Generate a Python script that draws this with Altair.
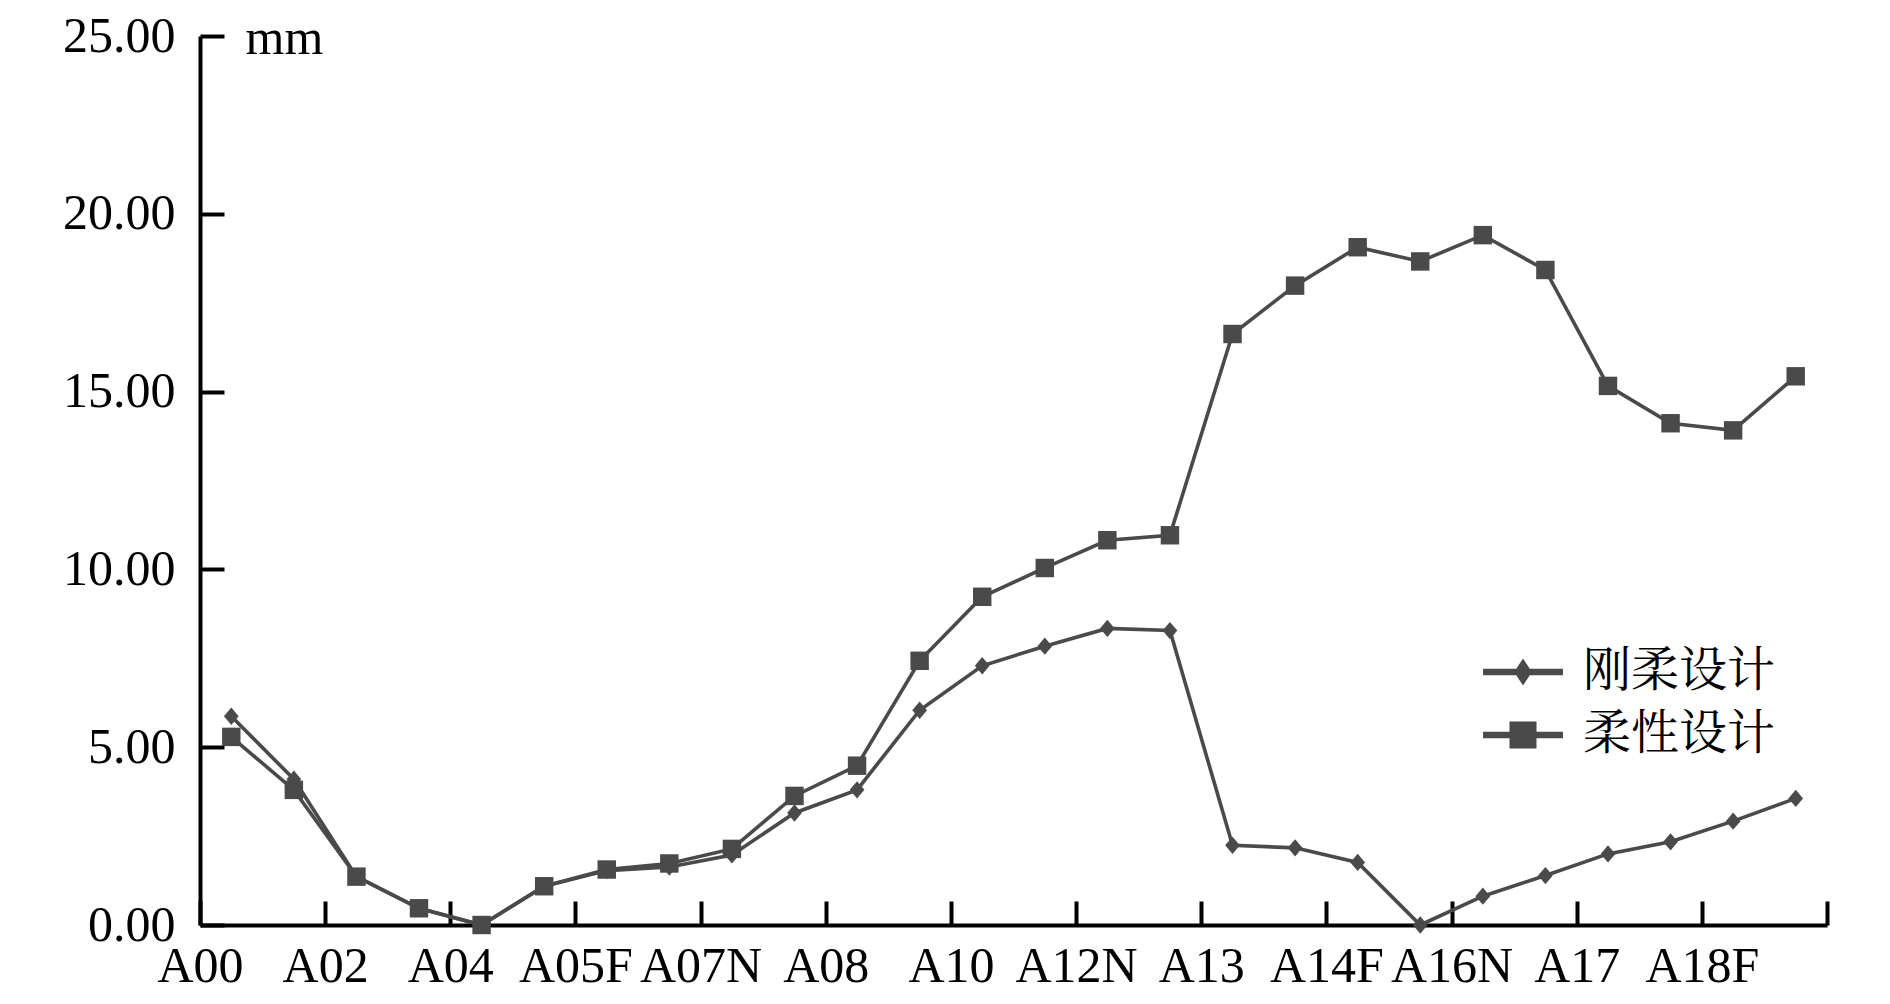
import altair as alt
import pandas as pd

# ---- data ----
series_names = ["刚柔设计", "柔性设计"]
rigid_flexible = [5.87, 4.10, 1.36, 0.47, 0.00, 1.09, 1.53, 1.63, 1.97, 3.15,
                  3.80, 6.04, 7.29, 7.84, 8.34, 8.28, 2.24, 2.17, 1.76, 0.00,
                  0.81, 1.39, 2.00, 2.34, 2.92, 3.56]
flexible = [5.29, 3.80, 1.36, 0.47, 0.00, 1.09, 1.56, 1.73, 2.14, 3.63,
            4.48, 7.43, 9.23, 10.04, 10.82, 10.96, 16.62, 17.98, 19.06, 18.66,
            19.40, 18.42, 15.16, 14.11, 13.91, 15.43]
tick_labels = ["A00", "A02", "A04", "A05F", "A07N", "A08", "A10", "A12N",
               "A13", "A14F", "A16N", "A17", "A18F", ""]
y_ticks = [0, 5, 10, 15, 20, 25]

n = len(flexible)
rows = []
for i, v in enumerate(rigid_flexible):
    rows.append({"pos": i + 0.5, "value": v, "series": series_names[0]})
for i, v in enumerate(flexible):
    rows.append({"pos": i + 0.5, "value": v, "series": series_names[1]})
df = pd.DataFrame(rows)

tick_pos = list(range(0, n + 1, 2))
label_map = "[" + ",".join("'" + t + "'" for t in tick_labels) + "]"

GRAY = "#4a4a4a"
SERIF = "Liberation Serif, Times New Roman, serif"
CJK = "Noto Serif CJK SC, Noto Sans CJK SC, sans-serif"

x_enc = alt.X("pos:Q",
              scale=alt.Scale(domain=[0, n], nice=False, zero=False),
              axis=alt.Axis(values=tick_pos, grid=False, title=None,
                            labelExpr=label_map + "[round(datum.value/2)]",
                            labelFont=SERIF, labelFontSize=50, labelColor="black",
                            labelPadding=40, labelFlush=False, labelOverlap=False,
                            domainColor="black", domainWidth=4,
                            tickColor="black", tickWidth=4,
                            tickSize={"expr": "-24"}))
y_enc = alt.Y("value:Q",
              scale=alt.Scale(domain=[0, 25], nice=False),
              axis=alt.Axis(values=y_ticks, format=".2f", grid=False,
                            title="mm", titleAngle=0, titleX=45, titleY=2,
                            titleAlign="left", titleBaseline="middle",
                            titleFont=SERIF, titleFontSize=50,
                            titleFontWeight="normal", titleColor="black",
                            labelFont=SERIF, labelFontSize=50, labelColor="black",
                            labelPadding=49, labelFlush=False,
                            domainColor="black", domainWidth=4,
                            tickColor="black", tickWidth=4,
                            tickSize={"expr": "-24"}))

color_scale = alt.Scale(domain=series_names, range=[GRAY, GRAY])

lines = alt.Chart(df).mark_line(strokeWidth=3.6).encode(
    x=x_enc, y=y_enc,
    color=alt.Color("series:N", scale=color_scale, legend=None),
    detail="series:N",
)

points = alt.Chart(df).mark_point(filled=True, opacity=1, strokeWidth=0).encode(
    x="pos:Q", y="value:Q",
    color=alt.Color("series:N", scale=color_scale, legend=None),
    shape=alt.Shape("series:N",
                    scale=alt.Scale(domain=series_names,
                                    range=["M0,-1L0.85,0L0,1L-0.85,0Z", "square"]),
                    legend=None),
    size=alt.Size("series:N",
                  scale=alt.Scale(domain=series_names, range=[300, 340]),
                  legend=None),
)

# legend-only layer (invisible marks, visible legend symbols)
legend_paths = [
    "M-1.48,-0.12H1.48V0.12H-1.48Z M0,-0.5L0.33,0L0,0.5L-0.33,0Z",
    "M-1.48,-0.12H1.48V0.12H-1.48Z M-0.5,-0.5H0.5V0.5H-0.5Z",
]
legend_layer = alt.Chart(df).mark_point(filled=True, opacity=0, strokeWidth=0,
                                        color=GRAY, fill=GRAY).encode(
    x="pos:Q", y="value:Q",
    shape=alt.Shape("series:N",
                    scale=alt.Scale(domain=series_names, range=legend_paths),
                    legend=alt.Legend(title=None, orient="none",
                                      legendX=1296, legendY=609,
                                      symbolSize=2916, symbolOpacity=1,
                                      symbolFillColor=GRAY, symbolStrokeWidth=0,
                                      labelFont=CJK, labelFontSize=48,
                                      labelColor="black", labelOffset=33,
                                      labelLimit=0,
                                      rowPadding=12, padding=0)),
)

chart = alt.layer(lines, points, legend_layer).resolve_scale(
    shape="independent", size="independent"
).properties(
    width=1627, height=889,
    background="white",
    autosize=alt.AutoSizeParams(type="none"),
    padding={"left": 192, "top": 28, "right": 50, "bottom": 72},
).configure_view(stroke=None, strokeOpacity=0, strokeWidth=0)

chart.save("out.html", embed_options={"renderer": "svg", "actions": False})
